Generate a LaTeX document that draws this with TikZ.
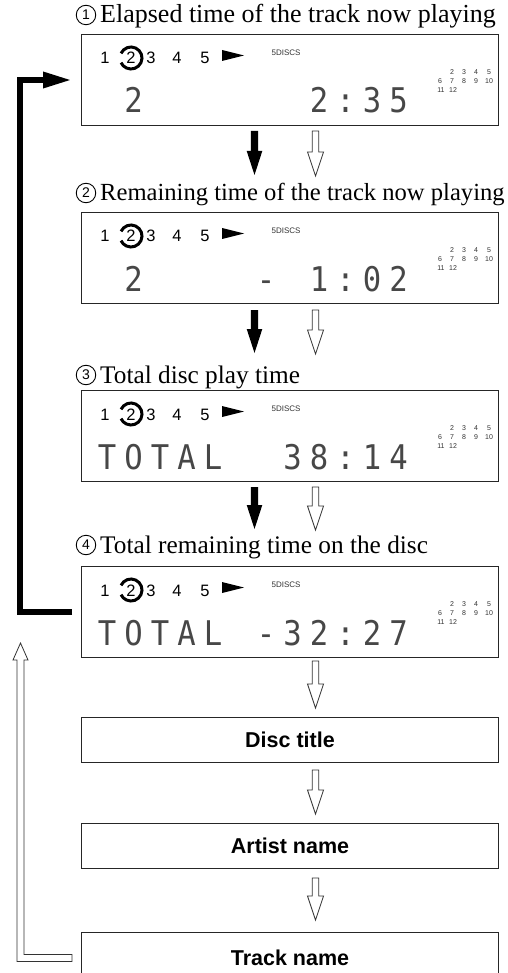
\documentclass[tikz,border=0pt]{standalone}
\usepackage{fontspec}
\setmainfont{Liberation Serif}
\setsansfont{Liberation Sans}
\newfontfamily\lcdfont{DejaVu Sans Mono}
\usetikzlibrary{calc,arrows.meta}

\tikzset{
  dbox/.style={draw=black!85, line width=1pt, minimum width=417pt, minimum height=91pt, anchor=north west, inner sep=0pt},
  lbox/.style={draw=black!85, line width=1pt, minimum width=417pt, minimum height=45pt, anchor=north west, inner sep=0pt,
               font=\sffamily\bfseries\fontsize{21.5}{21.5}\selectfont},
  ttl/.style={anchor=base west, inner sep=0pt, font=\fontsize{#1}{#1}\selectfont},
  ttl/.default=25.3,
  cnum/.style={circle, draw, line width=0.9pt, minimum size=19.5pt, inner sep=0pt, font=\sffamily\fontsize{14}{14}\selectfont},
  sm/.style={anchor=base, inner sep=0pt, font=\sffamily\fontsize{16.5}{16.5}\selectfont},
  tinyt/.style={inner sep=0pt, font=\sffamily\fontsize{7}{7}\selectfont, text=black!80},
  lcd/.style={anchor=base, inner sep=0pt, xscale=0.9, font=\lcdfont\fontsize{34}{34}\selectfont, text=black!72},
  wblock/.style={draw=black!80, fill=white, line width=0.8pt, line join=miter},
  bblock/.style={fill=black},
  retline/.style={line width=6pt, line join=miter, -{Triangle[length=29pt,width=15pt]}},
  pics/wdn/.style={code={\draw[wblock] (-3.3,0) -- (3.3,0) -- (3.3,#1-24) -- (8,#1-24) -- (0,#1) -- (-8,#1-24) -- (-3.3,#1-24) -- cycle;}},
  pics/bdn/.style={code={\fill[bblock] (-3.6,0) -- (3.6,0) -- (3.6,#1-24) -- (7.8,#1-24) -- (0,#1) -- (-7.8,#1-24) -- (-3.6,#1-24) -- cycle;}},
}

\newcommand\dhead[2]{%
  \foreach \n/\xx in {1/105,3/151,4/177,5/205} \node[sm] (h#1n\n) at (\xx,#2+30) {\n};
  \node[sm] (h#1c) at (131,#2+30) {2};
  \draw[line width=3pt] (131,#2+24) ++(205:11) arc (205:515:11);
  \fill (222,#2+16) -- (244,#2+21.5) -- (222,#2+27) -- cycle;
  \node[tinyt, font=\sffamily\fontsize{8}{8}\selectfont] (h#1d) at (286,#2+19) {5DISCS};
  \foreach \n/\xx in {2/452,3/464,4/476,5/489} \node[tinyt] (h#1a\n) at (\xx,#2+38) {\n};
  \foreach \n/\xx in {6/440,7/452,8/464,9/476,10/489} \node[tinyt] (h#1b\n) at (\xx,#2+47) {\n};
  \foreach \n/\xx in {11/441,12/453} \node[tinyt] (h#1e\n) at (\xx,#2+56) {\n};
}
\newcommand\lcdrow[3]{%
  \foreach \c/\ch in {#3} \node[lcd] (l#1c\c) at (107+26.5*\c,#2+79) {\ch};
}

\begin{document}
\begin{tikzpicture}[x=1pt,y=-1pt]
\useasboundingbox (0,0) rectangle (507,973);
\fill[white] (0,0) rectangle (507,973);

% titles
\node[cnum] (n1) at (86,15)  {1};
\node[cnum] (n2) at (86,193) {2};
\node[cnum] (n3) at (86,375) {3};
\node[cnum] (n4) at (86,545) {4};
\node[ttl=26]   (t1) at (100,23)  {Elapsed time of the track now playing};
\node[ttl=24.6] (t2) at (100,201) {Remaining time of the track now playing};
\node[ttl]      (t3) at (100,383) {Total disc play time};
\node[ttl]      (t4) at (100,553) {Total remaining time on the disc};

% display boxes
\node[dbox] (d1) at (81,34)  {};
\node[dbox] (d2) at (81,212) {};
\node[dbox] (d3) at (81,390) {};
\node[dbox] (d4) at (81,566) {};

\dhead{1}{34}
\dhead{2}{212}
\dhead{3}{390}
\dhead{4}{566}

\lcdrow{1}{34}{1/2,8/2,9/:,10/3,11/5}
\lcdrow{2}{212}{1/2,6/-,8/1,9/:,10/0,11/2}
\lcdrow{3}{390}{0/T,1/O,2/T,3/A,4/L,7/3,8/8,9/:,10/1,11/4}
\lcdrow{4}{566}{0/T,1/O,2/T,3/A,4/L,6/-,7/3,8/2,9/:,10/2,11/7}

% text boxes
\node[lbox] (disc) at (81,717) {Disc title};
\node[lbox] (artist) at (81,823) {Artist name};
\node[lbox, minimum height=51pt] (track) at (81,932) {Track name};

% down arrows between displays
\pic at ($(d1.south)+(-35.5,5)$) {bdn=44};
\pic at ($(d1.south)+(25.5,5)$)  {wdn=45};
\pic at ($(d2.south)+(-35.5,6)$) {bdn=43};
\pic at ($(d2.south)+(25.5,6)$)  {wdn=44};
\pic at ($(d3.south)+(-35.5,5)$) {bdn=42};
\pic at ($(d3.south)+(25.5,5)$)  {wdn=43};

% white arrows below
\pic at ($(d4.south)+(25.5,3)$)     {wdn=47};
\pic at ($(disc.south)+(25.5,7)$)   {wdn=44};
\pic at ($(artist.south)+(25.5,9)$) {wdn=42};

% thick black return arrow
\draw[retline] ($(d4.west)+(-9,0)$) -- ($(d4.west)+(-61,0)$) |- ($(d1.west)+(-9,0)$);

% white return arrow from track name
\begin{scope}[shift={(track.west)}]
  \draw[wblock] (-9,-3.5) -- (-57,-3.5) -- (-57,-298) -- (-53,-298) -- (-60.5,-315) -- (-68,-298) -- (-64,-298) -- (-64,3.5) -- (-9,3.5) -- cycle;
\end{scope}
\end{tikzpicture}
\end{document}
